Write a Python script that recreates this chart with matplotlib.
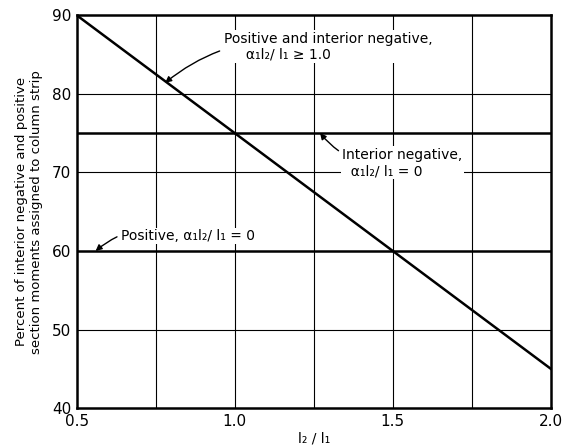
import numpy as np
import matplotlib.pyplot as plt

# ratio l2/l1 and percent of moment to column strip
ratio = [0.5, 1.0, 1.5, 2.0]
pct_stiff = [90, 75, 60, 45]          # alpha1 l2/l1 >= 1.0
pct_int_neg_zero = [75, 75, 75, 75]   # interior negative, alpha1 l2/l1 = 0
pct_pos_zero = [60, 60, 60, 60]       # positive, alpha1 l2/l1 = 0

xticks = [0.5, 1.0, 1.5, 2.0]
yticks = [40, 50, 60, 70, 80, 90]

plt.rcParams['font.family'] = ['DejaVu Sans']

fig = plt.figure(figsize=(5.72, 4.47), dpi=100)
ax = fig.add_axes([0.134, 0.087, 0.829, 0.879])

for xv in [0.75, 1.0, 1.25, 1.5, 1.75]:
    ax.axvline(xv, color='black', lw=0.8, zorder=1)
for yv in [50, 70, 80]:
    ax.axhline(yv, color='black', lw=0.8, zorder=1)

ax.plot(ratio, pct_stiff, color='black', lw=1.8, zorder=3)
ax.plot(ratio, pct_int_neg_zero, color='black', lw=1.8, zorder=3)
ax.plot(ratio, pct_pos_zero, color='black', lw=1.8, zorder=3)

ax.set_xlim(0.5, 2.0)
ax.set_ylim(40, 90)
ax.set_xticks(xticks)
ax.set_xticklabels(['%.1f' % v for v in xticks])
ax.set_yticks(yticks)
ax.tick_params(length=0, labelsize=11, pad=4)
for s in ax.spines.values():
    s.set_linewidth(1.8)

ax.set_xlabel('l\u2082 / l\u2081', fontsize=10, labelpad=2)
ax.set_ylabel('Percent of interior negative and positive\nsection moments assigned to column strip',
              fontsize=9.5, labelpad=6)

box = dict(facecolor='white', edgecolor='none', pad=1)
arrow = dict(arrowstyle='-|>', color='black', lw=1.0, mutation_scale=9)

ax.annotate('Positive and interior negative,\n     \u03b1\u2081l\u2082/ l\u2081 \u2265 1.0',
            xy=(0.78, 81.4), xytext=(0.965, 86.0), fontsize=10, ha='left', va='center',
            bbox=box, zorder=4,
            arrowprops=dict(arrow, connectionstyle='arc3,rad=0.25', shrinkA=2, shrinkB=0))

ax.annotate('Interior negative,\n  \u03b1\u2081l\u2082/ l\u2081 = 0',
            xy=(1.27, 75), xytext=(1.34, 71.2), fontsize=10, ha='left', va='center',
            bbox=box, zorder=4,
            arrowprops=dict(arrow, connectionstyle='arc3,rad=-0.3', shrinkA=2, shrinkB=0))

ax.annotate('Positive, \u03b1\u2081l\u2082/ l\u2081 = 0',
            xy=(0.56, 60), xytext=(0.64, 61.9), fontsize=10, ha='left', va='center',
            bbox=box, zorder=4,
            arrowprops=dict(arrow, connectionstyle='arc3,rad=0.3', shrinkA=2, shrinkB=0))

fig.savefig('out.png', dpi=100)
